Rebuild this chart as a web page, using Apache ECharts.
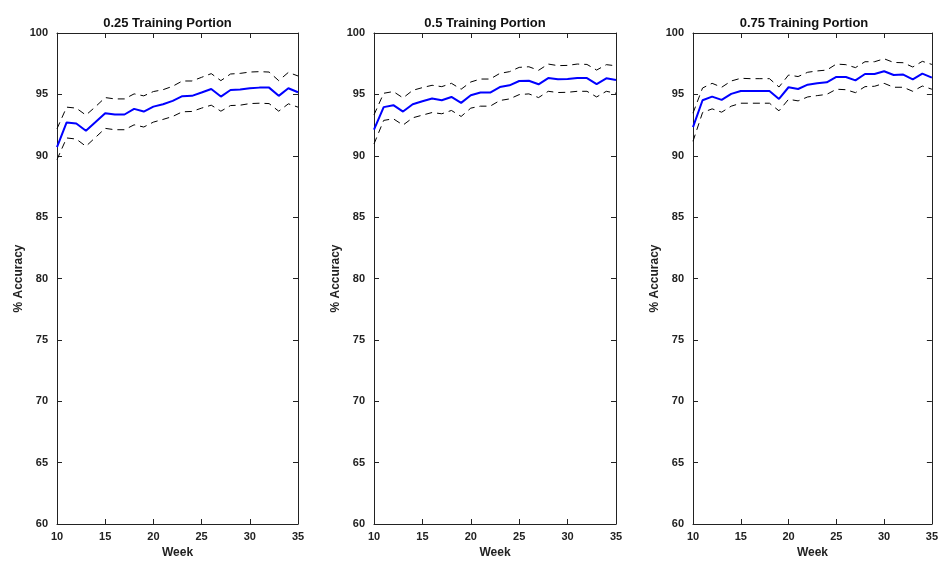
<!DOCTYPE html>
<html>
<head>
<meta charset="utf-8">
<script src="https://cdn.jsdelivr.net/npm/echarts@6/dist/echarts.min.js"></script>
<style>
  html, body { margin: 0; padding: 0; background: #fff; }
  #chart { width: 941px; height: 564px; }
</style>
</head>
<body>
<div id="chart"></div>
<script>
// Weekly accuracy for three training portions: mean (solid) and bounds (dashed)
const weeks = [10, 11, 12, 13, 14, 15, 16, 17, 18, 19, 20, 21, 22, 23, 24, 25, 26, 27, 28, 29, 30, 31, 32, 33, 34, 35];

const panelTitles = ['0.25 Training Portion', '0.5 Training Portion', '0.75 Training Portion'];
const yTicks = { min: 60, max: 100, step: 5 };
const xTicks = { min: 10, max: 35, step: 5 };

const mean25 = [90.7, 92.71, 92.63, 92.04, 92.75, 93.47, 93.36, 93.36, 93.82, 93.6, 94.0, 94.2, 94.47, 94.85, 94.88, 95.15, 95.44, 94.82, 95.36, 95.39, 95.5, 95.55, 95.55, 94.88, 95.5, 95.17];
const upper25 = [92.2, 93.96, 93.88, 93.31, 94.0, 94.74, 94.63, 94.63, 95.04, 94.88, 95.23, 95.38, 95.66, 96.09, 96.09, 96.39, 96.69, 96.12, 96.66, 96.71, 96.82, 96.85, 96.82, 96.12, 96.79, 96.5];
const lower25 = [89.69, 91.45, 91.36, 90.77, 91.5, 92.23, 92.12, 92.12, 92.52, 92.34, 92.74, 92.96, 93.2, 93.58, 93.61, 93.88, 94.12, 93.63, 94.09, 94.12, 94.25, 94.28, 94.25, 93.63, 94.23, 93.96];

const mean50 = [92.12, 93.96, 94.12, 93.6, 94.2, 94.44, 94.66, 94.52, 94.79, 94.31, 94.93, 95.15, 95.15, 95.6, 95.74, 96.09, 96.11, 95.82, 96.33, 96.23, 96.25, 96.33, 96.33, 95.84, 96.31, 96.17];
const upper50 = [93.33, 95.09, 95.23, 94.71, 95.33, 95.55, 95.74, 95.63, 95.9, 95.42, 96.01, 96.25, 96.25, 96.71, 96.85, 97.2, 97.25, 96.96, 97.47, 97.34, 97.36, 97.47, 97.44, 96.98, 97.42, 97.33];
const lower50 = [90.96, 92.88, 93.01, 92.5, 93.09, 93.31, 93.52, 93.42, 93.69, 93.2, 93.88, 94.04, 94.04, 94.5, 94.63, 94.98, 95.04, 94.74, 95.25, 95.15, 95.17, 95.25, 95.25, 94.79, 95.25, 95.09];

const mean75 = [92.33, 94.52, 94.82, 94.55, 95.04, 95.28, 95.28, 95.28, 95.28, 94.63, 95.58, 95.44, 95.79, 95.9, 95.98, 96.42, 96.42, 96.14, 96.66, 96.66, 96.88, 96.58, 96.61, 96.23, 96.69, 96.36];
const upper75 = [93.47, 95.52, 95.9, 95.58, 96.09, 96.31, 96.28, 96.28, 96.28, 95.6, 96.58, 96.45, 96.8, 96.91, 96.98, 97.47, 97.42, 97.18, 97.66, 97.66, 97.9, 97.6, 97.58, 97.23, 97.69, 97.44];
const lower75 = [91.18, 93.52, 93.82, 93.55, 94.04, 94.28, 94.28, 94.28, 94.28, 93.66, 94.6, 94.47, 94.79, 94.9, 95.0, 95.42, 95.38, 95.14, 95.63, 95.66, 95.9, 95.58, 95.58, 95.25, 95.68, 95.42];

const panels = [
  { mean: mean25, upper: upper25, lower: lower25 },
  { mean: mean50, upper: upper50, lower: lower50 },
  { mean: mean75, upper: upper75, lower: lower75 }
];

const FONT = '"Liberation Sans", Arial, Helvetica, sans-serif';
const INK = '#222';
const gridLeft = [57, 374, 693];
const gridWidth = [241, 242, 242];
const gridTop = 33;
const gridHeight = 494;

const pairs = (vals) => vals.map((v, i) => [weeks[i], v]);

const grid = [], xAxis = [], yAxis = [], series = [], title = [];

panels.forEach((p, k) => {
  grid.push({ left: gridLeft[k], top: gridTop, width: gridWidth[k], height: gridHeight, containLabel: false });

  title.push({
    text: panelTitles[k],
    left: gridLeft[k] + gridWidth[k] / 2 - 15,
    top: 12,
    textAlign: 'center',
    textStyle: { fontFamily: FONT, fontSize: 13, fontWeight: 'bold', color: '#111' }
  });

  const axisLine = { show: true, lineStyle: { color: INK, width: 1 } };
  const tick = { show: true, inside: true, length: 5, lineStyle: { color: INK, width: 1 } };
  const label = { fontFamily: FONT, fontSize: 11, fontWeight: 'bold', color: INK };

  // bottom axis with labels
  xAxis.push({
    type: 'value', gridIndex: k, position: 'bottom',
    min: xTicks.min, max: xTicks.max, interval: xTicks.step,
    axisLine, axisTick: tick, splitLine: { show: false },
    axisLabel: Object.assign({ margin: 7 }, label),
    name: 'Week', nameLocation: 'middle', nameGap: 23,
    nameTextStyle: { fontFamily: FONT, fontSize: 12, fontWeight: 'bold', color: INK }
  });
  // top axis, ticks only
  xAxis.push({
    type: 'value', gridIndex: k, position: 'top',
    min: xTicks.min, max: xTicks.max, interval: xTicks.step,
    axisLine, axisTick: tick, splitLine: { show: false },
    axisLabel: { show: false }
  });
  // left axis with labels
  yAxis.push({
    type: 'value', gridIndex: k, position: 'left',
    min: yTicks.min, max: yTicks.max, interval: yTicks.step,
    axisLine, axisTick: tick, splitLine: { show: false },
    axisLabel: Object.assign({ margin: 9 }, label),
    name: '% Accuracy', nameLocation: 'middle', nameGap: 32, nameRotate: 90,
    nameTextStyle: { fontFamily: FONT, fontSize: 12, fontWeight: 'bold', color: INK }
  });
  // right axis, ticks only
  yAxis.push({
    type: 'value', gridIndex: k, position: 'right',
    min: yTicks.min, max: yTicks.max, interval: yTicks.step,
    axisLine, axisTick: tick, splitLine: { show: false },
    axisLabel: { show: false }
  });

  const xi = k * 2, yi = k * 2;
  const dashed = { color: '#000', width: 1, type: [7, 5] };
  series.push({
    type: 'line', xAxisIndex: xi, yAxisIndex: yi, data: pairs(p.upper),
    showSymbol: false, lineStyle: dashed, silent: true, animation: false
  });
  series.push({
    type: 'line', xAxisIndex: xi, yAxisIndex: yi, data: pairs(p.lower),
    showSymbol: false, lineStyle: dashed, silent: true, animation: false
  });
  series.push({
    type: 'line', xAxisIndex: xi, yAxisIndex: yi, data: pairs(p.mean),
    showSymbol: false, lineStyle: { color: '#0000ff', width: 2 }, silent: true, animation: false
  });
});

const chart = echarts.init(document.getElementById('chart'), null, { renderer: 'canvas' });
chart.setOption({ backgroundColor: '#fff', animation: false, title, grid, xAxis, yAxis, series });
</script>
</body>
</html>
